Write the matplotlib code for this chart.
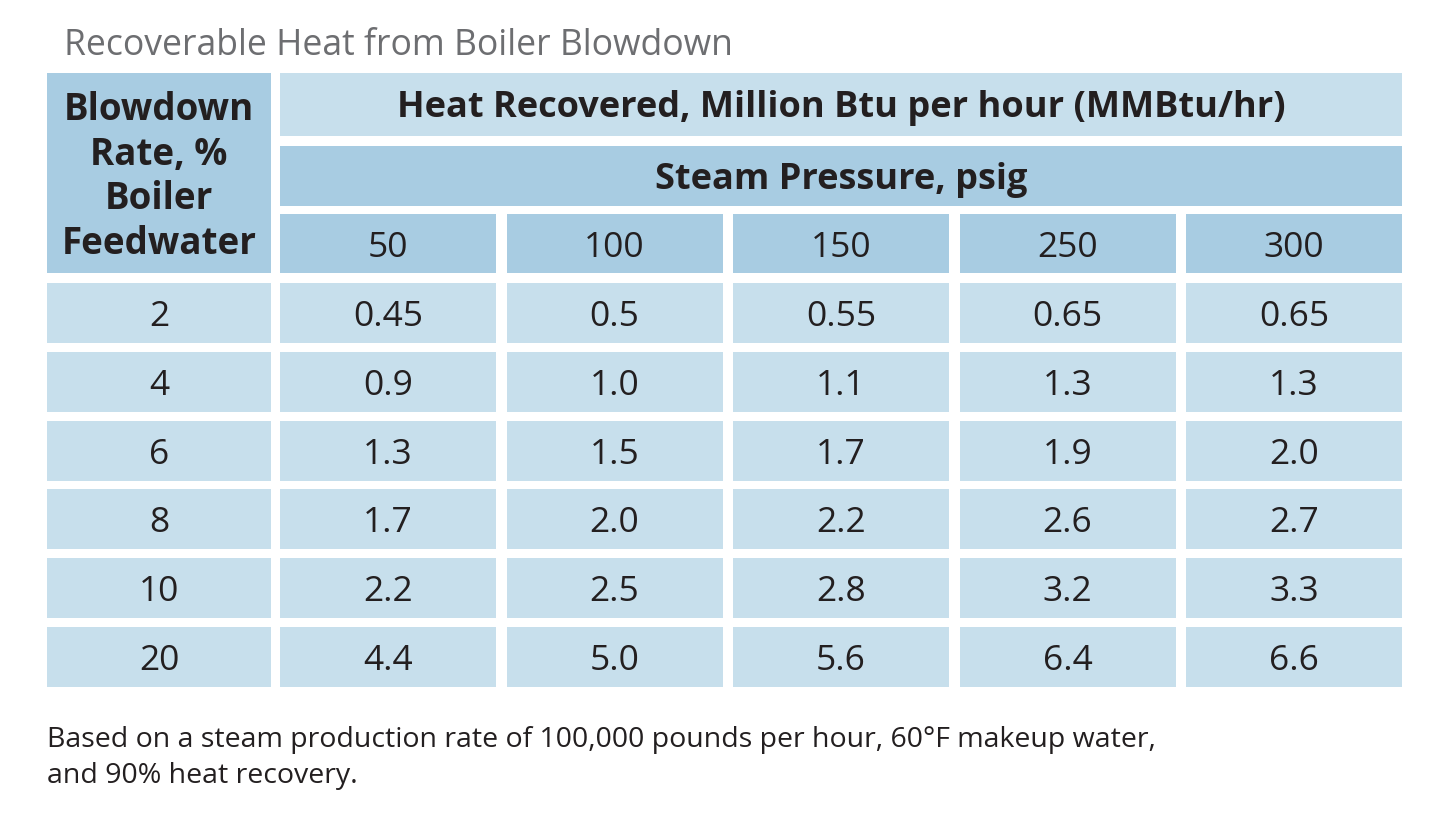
import matplotlib
matplotlib.use("Agg")
import matplotlib.pyplot as plt
from matplotlib.patches import Rectangle

title = "Recoverable Heat from Boiler Blowdown"
row_header = "Blowdown\nRate, %\nBoiler\nFeedwater"
top_header = "Heat Recovered, Million Btu per hour (MMBtu/hr)"
sub_header = "Steam Pressure, psig"
pressures = ["50", "100", "150", "250", "300"]
blowdown_rates = ["2", "4", "6", "8", "10", "20"]
values = [
    ["0.45", "0.5", "0.55", "0.65", "0.65"],
    ["0.9", "1.0", "1.1", "1.3", "1.3"],
    ["1.3", "1.5", "1.7", "1.9", "2.0"],
    ["1.7", "2.0", "2.2", "2.6", "2.7"],
    ["2.2", "2.5", "2.8", "3.2", "3.3"],
    ["4.4", "5.0", "5.6", "6.4", "6.6"],
]
footnote = ("Based on a steam production rate of 100,000 pounds per hour, 60°F makeup water,\n"
            "and 90% heat recovery.")

DARK = "#a8cce2"
LIGHT = "#c7dfec"
TXT = "#231f20"
GRAY = "#6d6e71"
FONT = ["Open Sans", "DejaVu Sans"]

W, H = 1444, 838
fig = plt.figure(figsize=(W / 100, H / 100), dpi=100)
ax = fig.add_axes([0, 0, 1, 1])
ax.set_xlim(0, W)
ax.set_ylim(H, 0)
ax.axis("off")

# layout grid (pixels)
left_x, left_w = 47, 224
col_x0, col_pitch, col_w = 280, 226.5, 216
ncol = len(pressures)
right_end = col_x0 + (ncol - 1) * col_pitch + col_w
hdr_rows = [(73, 63), (146, 60), (214, 59)]
row_y0, row_pitch, row_h = 283, 68.8, 60


def cell(x, y, w, h, color, text, size, weight="normal", ls=1.0, dy=0):
    ax.add_patch(Rectangle((x, y), w, h, facecolor=color, edgecolor="none"))
    ax.text(x + w / 2, y + h / 2 + dy, text, ha="center", va="center", fontsize=size,
            fontweight=weight, color=TXT, family=FONT, linespacing=ls)


ax.text(64, 46, title, ha="left", va="center", fontsize=25.6, color=GRAY, family=FONT)

hdr_top = hdr_rows[0][0]
hdr_bot = hdr_rows[2][0] + hdr_rows[2][1]
cell(left_x, hdr_top, left_w, hdr_bot - hdr_top, DARK, row_header, 26.5, "bold", 1.22, dy=4)
cell(col_x0, hdr_rows[0][0], right_end - col_x0, hdr_rows[0][1], LIGHT, top_header, 26, "bold", dy=4)
cell(col_x0, hdr_rows[1][0], right_end - col_x0, hdr_rows[1][1], DARK, sub_header, 26, "bold", dy=4)
for j, p in enumerate(pressures):
    cell(col_x0 + j * col_pitch, hdr_rows[2][0], col_w, hdr_rows[2][1], DARK, p, 25.5, dy=4)

for i, r in enumerate(blowdown_rates):
    y = row_y0 + i * row_pitch
    cell(left_x, y, left_w, row_h, LIGHT, r, 25.5, dy=4)
    for j in range(ncol):
        cell(col_x0 + j * col_pitch, y, col_w, row_h, LIGHT, values[i][j], 25.5, dy=4)

ax.text(47, 758, footnote, ha="left", va="center", fontsize=20.5, color=TXT,
        family=FONT, linespacing=1.42)

fig.savefig("out.png", dpi=100)
